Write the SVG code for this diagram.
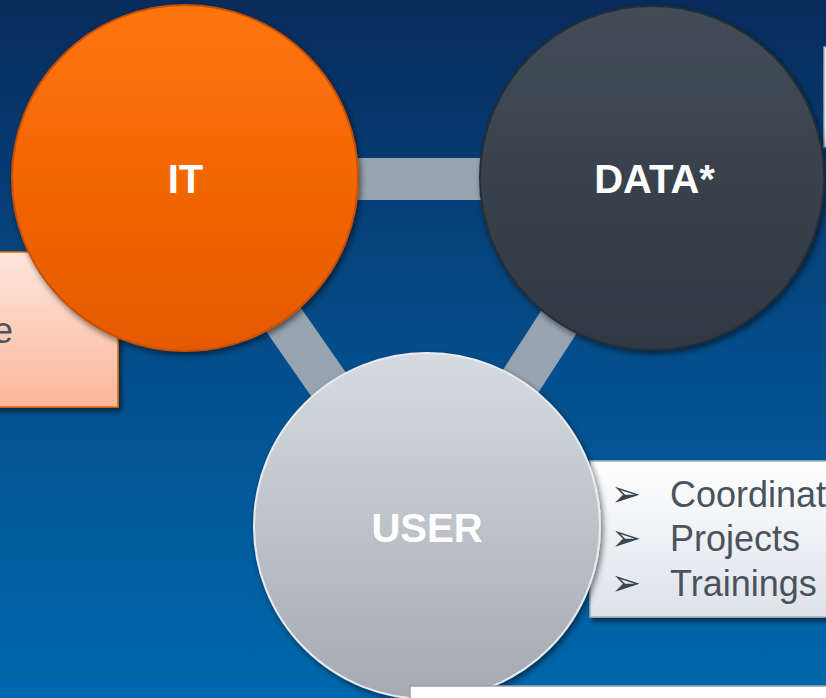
<svg xmlns="http://www.w3.org/2000/svg" width="826" height="698" viewBox="0 0 826 698">
  <defs>
    <linearGradient id="bg" x1="0" y1="0" x2="0" y2="1">
      <stop offset="0" stop-color="#082b5b"/>
      <stop offset="0.5" stop-color="#044d8a"/>
      <stop offset="1" stop-color="#0068ad"/>
    </linearGradient>
    <linearGradient id="gIT" x1="0" y1="0" x2="0" y2="1">
      <stop offset="0" stop-color="#ff750a"/>
      <stop offset="1" stop-color="#e55900"/>
    </linearGradient>
    <linearGradient id="gDATA" x1="0" y1="0" x2="0" y2="1">
      <stop offset="0" stop-color="#424c57"/>
      <stop offset="1" stop-color="#2f3843"/>
    </linearGradient>
    <linearGradient id="gUSER" x1="0" y1="0" x2="0" y2="1">
      <stop offset="0" stop-color="#d6dbe2"/>
      <stop offset="1" stop-color="#a5aab2"/>
    </linearGradient>
    <linearGradient id="gPeach" x1="0" y1="0" x2="0" y2="1">
      <stop offset="0" stop-color="#fde6dd"/>
      <stop offset="1" stop-color="#fcb698"/>
    </linearGradient>
    <linearGradient id="gBox" x1="0" y1="0" x2="0" y2="1">
      <stop offset="0" stop-color="#ffffff"/>
      <stop offset="1" stop-color="#dde2e9"/>
    </linearGradient>
    <filter id="shadow" x="-10%" y="-10%" width="125%" height="125%">
      <feDropShadow dx="2" dy="3" stdDeviation="3" flood-color="#000" flood-opacity="0.55"/>
    </filter>
    <filter id="bshadow" x="-10%" y="-10%" width="125%" height="125%">
      <feDropShadow dx="3" dy="4" stdDeviation="2.5" flood-color="#000" flood-opacity="0.5"/>
    </filter>
  </defs>
  <style>
    .lbl { font-family: "Liberation Sans", Arial, sans-serif; font-weight: bold; font-size: 40px; fill: #ffffff; text-anchor: middle; }
    .txt { font-family: "Liberation Sans", Arial, sans-serif; font-size: 36px; fill: #4a535d; }
    .bul { font-family: "DejaVu Sans", sans-serif; font-size: 36px; fill: #3b4550; }
    .conn { stroke: #98a4b0; stroke-width: 42; fill: none; }
  </style>

  <rect x="0" y="0" width="826" height="698" fill="url(#bg)"/>

  <g id="note-left">
    <rect x="-5" y="252" width="123" height="155" fill="url(#gPeach)" stroke="#e36c09" stroke-width="1.5" filter="url(#bshadow)"/>
    <text class="txt" x="13" y="343" text-anchor="end" font-size="40">e</text>
  </g>

  <g id="note-topright">
    <rect x="824" y="47" width="20" height="100" fill="#f2f4f7" stroke="#a0a6ad" stroke-width="1.5"/>
  </g>

  <g id="connectors">
    <line class="conn" x1="185" y1="179" x2="652" y2="179"/>
    <line class="conn" x1="185" y1="178" x2="427" y2="526"/>
    <line class="conn" x1="652" y1="178" x2="427" y2="526"/>
  </g>

  <g id="node-it">
    <circle cx="185" cy="178" r="173" fill="url(#gIT)" stroke="#c95000" stroke-width="2" filter="url(#shadow)"/>
    <text class="lbl" x="185.5" y="193">IT</text>
  </g>

  <g id="node-data">
    <circle cx="652" cy="178" r="172" fill="url(#gDATA)" stroke="#262d36" stroke-width="2" filter="url(#shadow)"/>
    <text class="lbl" x="654.5" y="193">DATA*</text>
  </g>

  <g id="note-user">
    <rect x="590" y="461" width="260" height="156" fill="url(#gBox)" stroke="#aab1b9" stroke-width="1.5" filter="url(#bshadow)"/>
    <text class="bul" x="611" y="506">➢</text>
    <text class="bul" x="611" y="550">➢</text>
    <text class="bul" x="611" y="595">➢</text>
    <text class="txt" x="670" y="507">Coordinat</text>
    <text class="txt" x="670" y="551">Projects</text>
    <text class="txt" x="670" y="596">Trainings</text>
  </g>

  <g id="node-user">
    <circle cx="427" cy="526" r="173" fill="url(#gUSER)" stroke="#e8ecf0" stroke-width="2" filter="url(#shadow)"/>
    <text class="lbl" x="427" y="542">USER</text>
  </g>

  <g id="note-bottom">
    <rect x="410" y="686" width="430" height="30" fill="#ffffff" stroke="#9aa0a6" stroke-width="1.5"/>
  </g>
</svg>
